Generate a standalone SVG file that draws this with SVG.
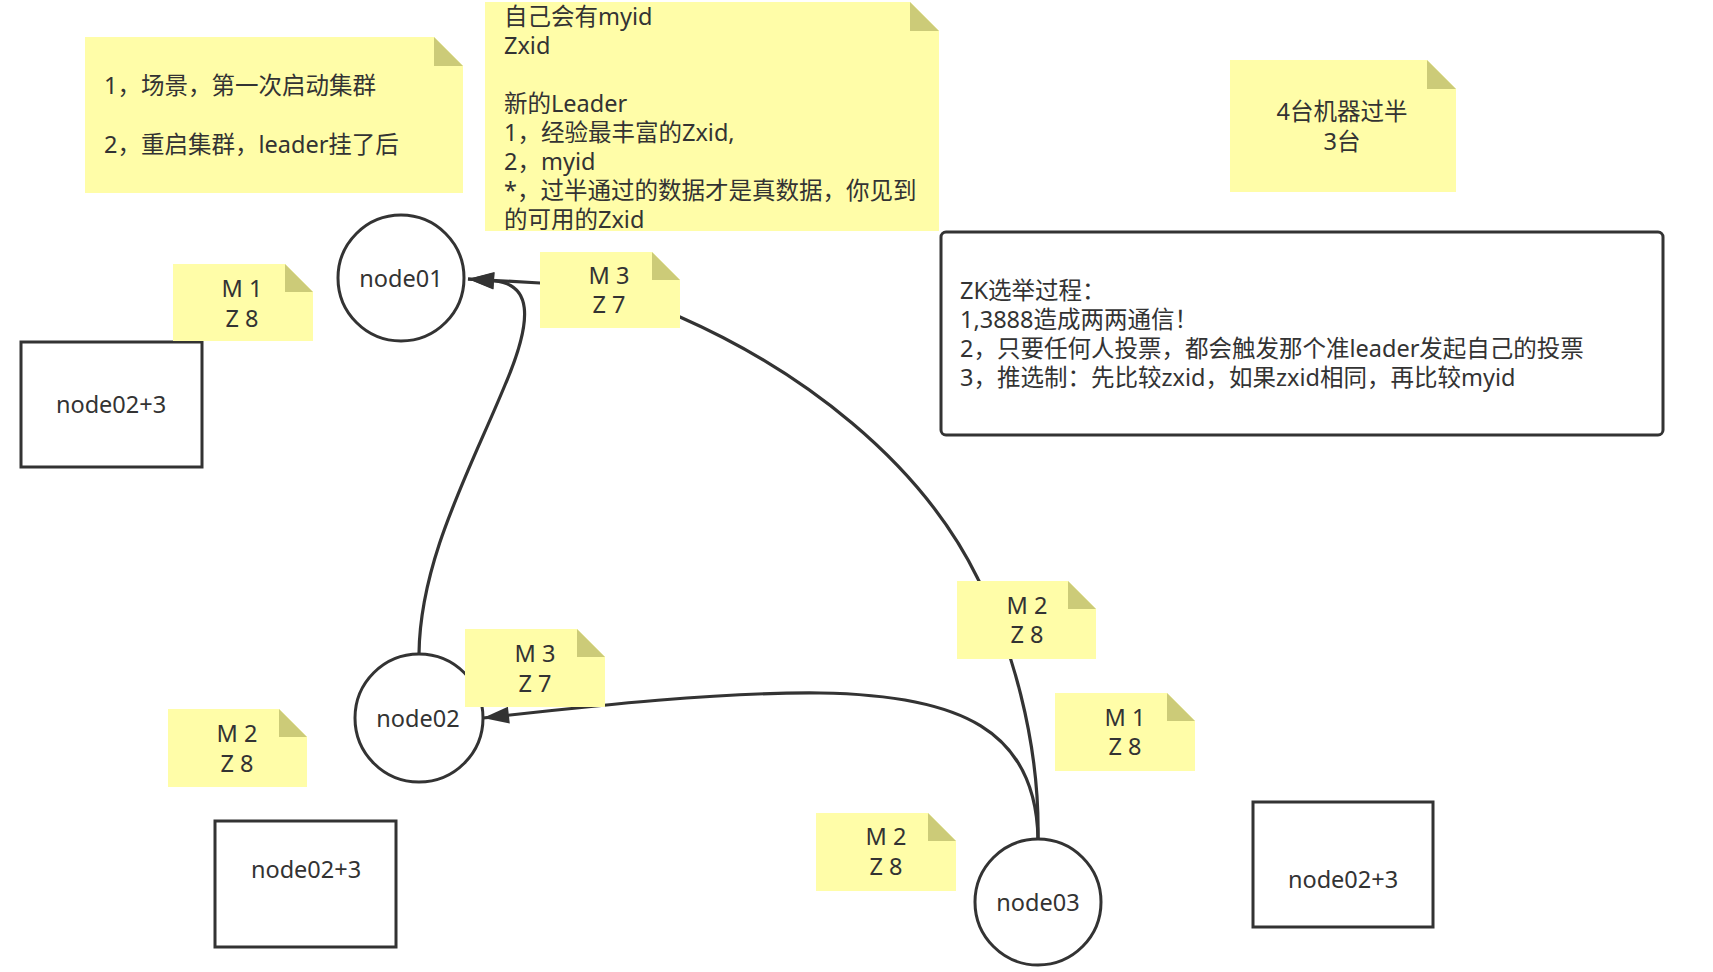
<svg xmlns="http://www.w3.org/2000/svg" width="1713" height="972" viewBox="0 0 1713 972">
<style>
text{font-family:"Noto Sans","Noto Sans CJK SC",sans-serif;font-size:23.5px;fill:#333}
.c{text-anchor:middle}
.note{fill:#FFFDA8}
.fold{fill:#CCCB78}
.shape{fill:#fff;stroke:#333;stroke-width:3}
.conn{fill:none;stroke:#333;stroke-width:3.2}
</style>
<defs>
<marker id="arr" viewBox="-28 -10 30 20" refX="0" refY="0" markerWidth="30" markerHeight="20" markerUnits="userSpaceOnUse" orient="auto">
<path d="M0,0 L-26,-8.5 L-26,8.5 Z" fill="#333"/>
</marker>
</defs>
<rect width="1713" height="972" fill="#fff"/>
<g id="connectors">
<path class="conn" d="M419 654 C420 560 470 470 505 385 C535 315 530 284 494 281 L468 279" marker-end="url(#arr)"/>
<path class="conn" d="M1038 839 C1040 740 1010 640 978 579 C920 460 800 370 680 317 C640 300 600 285 540 283 L468 279" marker-end="url(#arr)"/>
<path class="conn" d="M1038 839 C1036 730 960 695 820 693 C720 692 600 705 483 718" marker-end="url(#arr)"/>
</g>
<g id="node01"><circle class="shape" cx="401" cy="278" r="63"/><text class="c" x="401" y="287">node01</text></g>
<g id="node02"><circle class="shape" cx="419" cy="718" r="64"/><text class="c" x="418" y="727">node02</text></g>
<g id="node03"><circle class="shape" cx="1038" cy="902" r="63"/><text class="c" x="1038" y="911">node03</text></g>
<g id="box-left"><rect class="shape" x="21" y="342" width="181" height="125"/><text class="c" x="111" y="413">node02+3</text></g>
<g id="box-bottom"><rect class="shape" x="215" y="821" width="181" height="126"/><text class="c" x="306" y="878">node02+3</text></g>
<g id="box-right"><rect class="shape" x="1253" y="802" width="180" height="125"/><text class="c" x="1343" y="888">node02+3</text></g>
<g id="zk-box"><rect class="shape" x="941" y="232" width="722" height="203" rx="5"/>
<text x="960" y="299">ZK选举过程：</text>
<text x="960" y="328">1,3888造成两两通信！</text>
<text x="960" y="357">2，只要任何人投票，都会触发那个准leader发起自己的投票</text>
<text x="960" y="386">3，推选制：先比较zxid，如果zxid相同，再比较myid</text>
</g>
<g id="note-scene"><path class="note" d="M85 37 H434 L463 66 V193 H85 Z"/><path class="fold" d="M434 37 V66 H463 Z"/>
<text x="104" y="94">1，场景，第一次启动集群</text>
<text x="104" y="153">2，重启集群，leader挂了后</text>
</g>
<g id="note-leader"><path class="note" d="M485 2 H910 L939 31 V231 H485 Z"/><path class="fold" d="M910 2 V31 H939 Z"/>
<text x="504" y="25">自己会有myid</text>
<text x="504" y="54">Zxid</text>
<text x="504" y="112">新的Leader</text>
<text x="504" y="141">1，经验最丰富的Zxid,</text>
<text x="504" y="170">2，myid</text>
<text x="504" y="199">*，过半通过的数据才是真数据，你见到</text>
<text x="504" y="228">的可用的Zxid</text>
</g>
<g id="note-quorum"><path class="note" d="M1230 60 H1427 L1456 89 V192 H1230 Z"/><path class="fold" d="M1427 60 V89 H1456 Z"/>
<text class="c" x="1342" y="120">4台机器过半</text>
<text class="c" x="1342" y="150">3台</text>
</g>
<g id="vote-m1-top"><path class="note" d="M173 264 H285 L313 292 V341 H173 Z"/><path class="fold" d="M285 264 V292 H313 Z"/>
<text class="c" x="242" y="297">M 1</text><text class="c" x="242" y="327">Z 8</text></g>
<g id="vote-m3-top"><path class="note" d="M540 252 H652 L680 280 V328 H540 Z"/><path class="fold" d="M652 252 V280 H680 Z"/>
<text class="c" x="609" y="284">M 3</text><text class="c" x="609" y="313">Z 7</text></g>
<g id="vote-m3-mid"><path class="note" d="M465 629 H577 L605 657 V707 H465 Z"/><path class="fold" d="M577 629 V657 H605 Z"/>
<text class="c" x="535" y="662">M 3</text><text class="c" x="535" y="692">Z 7</text></g>
<g id="vote-m2-left"><path class="note" d="M168 709 H279 L307 737 V787 H168 Z"/><path class="fold" d="M279 709 V737 H307 Z"/>
<text class="c" x="237" y="742">M 2</text><text class="c" x="237" y="772">Z 8</text></g>
<g id="vote-m2-mid"><path class="note" d="M957 581 H1068 L1096 609 V659 H957 Z"/><path class="fold" d="M1068 581 V609 H1096 Z"/>
<text class="c" x="1027" y="614">M 2</text><text class="c" x="1027" y="643">Z 8</text></g>
<g id="vote-m1-right"><path class="note" d="M1055 693 H1167 L1195 721 V771 H1055 Z"/><path class="fold" d="M1167 693 V721 H1195 Z"/>
<text class="c" x="1125" y="726">M 1</text><text class="c" x="1125" y="755">Z 8</text></g>
<g id="vote-m2-bottom"><path class="note" d="M816 813 H928 L956 841 V891 H816 Z"/><path class="fold" d="M928 813 V841 H956 Z"/>
<text class="c" x="886" y="845">M 2</text><text class="c" x="886" y="875">Z 8</text></g>
</svg>
